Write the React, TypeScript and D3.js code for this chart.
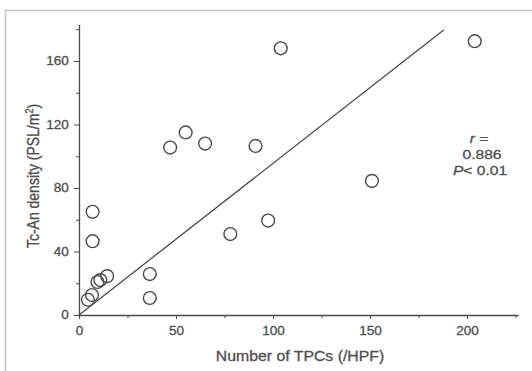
import { useEffect, useRef } from "react";
import * as d3 from "d3";

// values
const tpcs = [204, 104, 47, 55, 65, 91, 151, 97.5, 7, 7, 78, 36.5, 36.5, 14.5, 9.5, 11, 6.7, 4.6];
const density = [172.5, 168, 105.5, 115, 108, 106.5, 84.5, 59.5, 65, 46.5, 51, 25.8, 10.7, 24.5, 20.8, 22, 12.6, 9.6];
const fitX = [0, 188];
const slope = 0.955;
const xMajor = [0, 50, 100, 150, 200];
const xMinor = [25, 75, 125, 175, 225];
const yMajor = [0, 40, 80, 120, 160];
const yMinor = [20, 60, 100, 140, 180];

const W = 532;
const H = 371;
const ink = "#4a4a4a";
const txt = "#4f4f4f";
const font = "'Liberation Sans', Arial, sans-serif";
const stretch = 1.13; // the scan is a bit wide

export default function App() {
  const ref = useRef<SVGSVGElement | null>(null);

  useEffect(() => {
    const svg = d3.select(ref.current);
    svg.selectAll("*").remove();

    const x = d3.scaleLinear().domain([0, 226.3]).range([79, 518]);
    const y = d3.scaleLinear().domain([0, 183]).range([315, 24.5]);

    svg.append("rect").attr("width", W).attr("height", H).attr("fill", "#fff");

    // photo frame edges
    svg.append("path")
      .attr("d", `M5.5,${H} V10.5 H${W}`)
      .attr("fill", "none")
      .attr("stroke", "#c4c4c4")
      .attr("stroke-width", 1.5);

    const styleText = (sel: any, size: number) =>
      sel.attr("fill", txt)
        .attr("stroke", txt)
        .attr("stroke-width", 0.3)
        .style("font-size", size + "px")
        .style("font-family", font);

    // x axis
    const gx = svg.append("g").attr("transform", `translate(0,${y(0)})`);
    gx.call(d3.axisBottom(x).tickValues(xMajor).tickSize(4).tickSizeOuter(0).tickPadding(7));
    gx.append("g").call(d3.axisBottom(x).tickValues(xMinor).tickSize(3).tickFormat(() => ""));
    gx.selectAll("g g .domain").remove();
    gx.selectAll(".domain").attr("stroke", ink).attr("stroke-width", 1.3);
    gx.selectAll("line").attr("stroke", ink);
    styleText(gx.selectAll("text"), 12).attr("transform", `scale(${stretch},1)`);

    // y axis
    const gy = svg.append("g").attr("transform", `translate(${x(0)},0)`);
    gy.call(d3.axisLeft(y).tickValues(yMajor).tickSize(5).tickSizeOuter(0).tickPadding(4));
    gy.append("g").call(d3.axisLeft(y).tickValues(yMinor).tickSize(3).tickFormat(() => ""));
    gy.selectAll("g g .domain").remove();
    gy.selectAll(".domain").attr("stroke", ink).attr("stroke-width", 1.3);
    gy.selectAll("line").attr("stroke", ink);
    styleText(gy.selectAll("text"), 12).attr("transform", `scale(${stretch},1)`);

    // regression line
    svg.append("line")
      .attr("x1", x(fitX[0])).attr("y1", y(fitX[0] * slope))
      .attr("x2", x(fitX[1])).attr("y2", y(fitX[1] * slope))
      .attr("stroke", ink).attr("stroke-width", 1.3);

    // points
    svg.append("g")
      .selectAll("circle")
      .data(tpcs.map((t, i) => [t, density[i]]))
      .join("circle")
      .attr("cx", (d) => x(d[0]))
      .attr("cy", (d) => y(d[1]))
      .attr("r", 6.4)
      .attr("fill", "none")
      .attr("stroke", ink)
      .attr("stroke-width", 1.4);

    // axis titles
    const xt = svg.append("g").attr("transform", `translate(300,361) scale(${stretch},1)`);
    styleText(xt.append("text").attr("text-anchor", "middle"), 14).text("Number of TPCs (/HPF)");

    const yl = styleText(
      svg.append("text").attr("transform", `translate(39,176) rotate(-90) scale(1,${stretch})`).attr("text-anchor", "middle"),
      14
    );
    yl.append("tspan").text("Tc-An density (PSL/m");
    yl.append("tspan").attr("dy", -5).style("font-size", "9px").text("2");
    yl.append("tspan").attr("dy", 5).text(")");

    // stats
    const statW = 1.2;
    const r1 = styleText(
      svg.append("g").attr("transform", `translate(479,143) scale(${statW},1)`).append("text").attr("text-anchor", "middle"),
      13
    );
    r1.append("tspan").style("font-style", "italic").text("r");
    r1.append("tspan").text(" =");
    styleText(
      svg.append("g").attr("transform", `translate(482,159) scale(${statW},1)`).append("text").attr("text-anchor", "middle"),
      13
    ).text("0.886");
    const p = styleText(
      svg.append("g").attr("transform", `translate(480,175) scale(${statW},1)`).append("text").attr("text-anchor", "middle"),
      13
    );
    p.append("tspan").style("font-style", "italic").text("P");
    p.append("tspan").text("< 0.01");
  }, []);

  return (
    <div style={{ position: "absolute", left: 0, top: 0 }}>
      <svg ref={ref} width={W} height={H} style={{ display: "block" }} />
    </div>
  );
}
